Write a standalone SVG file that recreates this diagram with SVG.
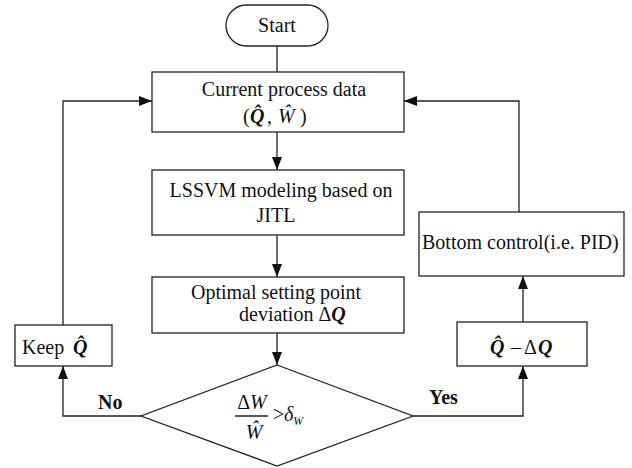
<svg xmlns="http://www.w3.org/2000/svg" width="632" height="468" viewBox="0 0 632 468">
<style>
.box{fill:#fff;stroke:#222;stroke-width:1.3}
.ln{fill:none;stroke:#222;stroke-width:1.3}
.t{font-family:"Liberation Serif","Times New Roman","DejaVu Serif",serif;font-size:20px;fill:#111}
.bi{font-weight:bold;font-style:italic}
.it{font-style:italic}
.b{font-weight:bold}
.m{text-anchor:middle}
</style>
<defs>
<marker id="ah" markerUnits="userSpaceOnUse" markerWidth="13" markerHeight="10" refX="13" refY="5" orient="auto">
<path d="M0,0 L13,5 L0,10 z" fill="#111"/>
</marker>
</defs>
<rect width="632" height="468" fill="#fff"/>
<g id="connectors">
<line class="ln" x1="277" y1="46" x2="277" y2="72"/>
<line class="ln" x1="277" y1="132" x2="277" y2="170" marker-end="url(#ah)"/>
<line class="ln" x1="277" y1="235" x2="277" y2="277" marker-end="url(#ah)"/>
<line class="ln" x1="277" y1="333" x2="277" y2="365" marker-end="url(#ah)"/>
<polyline class="ln" points="141,416 63,416 63,366" marker-end="url(#ah)"/>
<polyline class="ln" points="63,325 63,101 152,101" marker-end="url(#ah)"/>
<polyline class="ln" points="413,416 523,416 523,366" marker-end="url(#ah)"/>
<line class="ln" x1="523" y1="322" x2="523" y2="276" marker-end="url(#ah)"/>
<polyline class="ln" points="519,212 519,101 404,101" marker-end="url(#ah)"/>
<text class="t b" x="98" y="409">No</text>
<text class="t b" x="429" y="404">Yes</text>
</g>
<g id="start">
<rect class="box" x="226" y="5" width="102" height="41" rx="20.5"/>
<text class="t m" x="277" y="32">Start</text>
</g>
<g id="current">
<rect class="box" x="152" y="72" width="252" height="60"/>
<text class="t m" x="284" y="96">Current process data</text>
<text class="t" y="123"><tspan x="243">(</tspan><tspan class="bi" x="250">Q̂</tspan><tspan x="267">,</tspan><tspan class="it" x="278">Ŵ</tspan><tspan x="300">)</tspan></text>
</g>
<g id="lssvm">
<rect class="box" x="152" y="170" width="252" height="65"/>
<text class="t m" x="281" y="197">LSSVM modeling based on</text>
<text class="t m" x="276" y="222">JITL</text>
</g>
<g id="optimal">
<rect class="box" x="152" y="277" width="252" height="56"/>
<text class="t" x="191" y="299">Optimal setting point</text>
<text class="t" x="239" y="321">deviation Δ<tspan class="bi">Q</tspan></text>
</g>
<g id="decision">
<polygon class="box" points="277,365 413,416 277,466 141,416"/>
<text class="t m" x="252" y="409">Δ<tspan class="it">W</tspan></text>
<line class="ln" x1="235" y1="416" x2="268" y2="416"/>
<text class="t it" x="245.7" y="439">Ŵ</text>
<text class="t" x="273" y="421">&gt;</text>
<text class="t it" x="284" y="421">δ<tspan font-size="12" dy="4">W</tspan></text>
</g>
<g id="keep">
<rect class="box" x="15" y="325" width="97" height="41"/>
<text class="t" y="354"><tspan x="22">Keep</tspan><tspan class="bi" x="73">Q̂</tspan></text>
</g>
<g id="update">
<rect class="box" x="457" y="322" width="130" height="44"/>
<text class="t" y="354"><tspan class="bi" x="490">Q̂</tspan><tspan x="511">–</tspan><tspan x="524">Δ</tspan><tspan class="bi" x="538">Q</tspan></text>
</g>
<g id="bottom">
<rect class="box" x="419" y="212" width="205" height="64"/>
<text class="t" x="422" y="249">Bottom control(i.e. PID)</text>
</g>
</svg>
